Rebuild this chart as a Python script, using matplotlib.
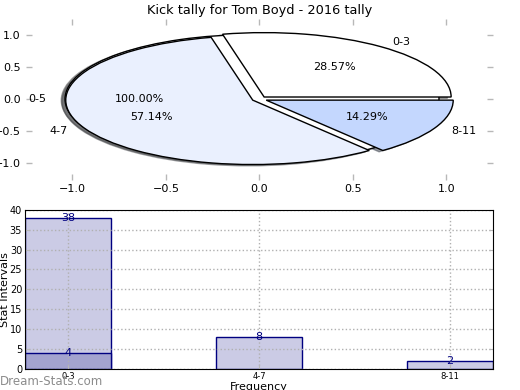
import matplotlib
matplotlib.use("Agg")
from matplotlib import pyplot as plt
from matplotlib.patches import Wedge
import matplotlib.colors as mcolors

# pie data
outer_label = ["0-5"]
outer_value = [38]
pie_labels = ["0-3", "4-7", "8-11"]
pie_values = [4, 8, 2]
pie_colors = ["#ffffff", "#eaf0fe", "#c4d7fe"]

# bar data
bar_labels = ["0-3", "4-7", "8-11"]
bar_values = [38, 8, 2]
overlay_values = [4]


def add_shadows(ax, wedges):
    # old-style pie shadow: offset in data units, sits under every wedge
    for w in wedges:
        cx, cy = w.center
        rgb = 0.3 * mcolors.to_rgba_array(w.get_facecolor())[0][:3]
        sh = Wedge((cx - 0.02, cy - 0.02), w.r, w.theta1, w.theta2,
                   facecolor=rgb, edgecolor=rgb, alpha=0.5, zorder=0.9)
        ax.add_patch(sh)


fig = plt.figure(figsize=(5.2, 3.9), dpi=100)

# ---------------- pie ----------------
ax1 = fig.add_axes([0.0495, 0.5397, 0.899, 0.4128])
outer, _, _ = ax1.pie(outer_value, labels=outer_label, autopct="%1.2f%%",
                      colors=["white"], explode=[0.04],
                      wedgeprops={"edgecolor": "black", "linewidth": 1},
                      textprops={"fontsize": 8})
inner, _, _ = ax1.pie(pie_values, labels=pie_labels, autopct="%1.2f%%", colors=pie_colors,
                      explode=[0.04] * len(pie_values),
                      wedgeprops={"edgecolor": "black", "linewidth": 1},
                      textprops={"fontsize": 8})
add_shadows(ax1, outer)
add_shadows(ax1, inner)
ax1.set_aspect("auto")
ax1.set_xlim(-1.25, 1.25)
ax1.set_ylim(-1.25, 1.25)
ax1.set_xticks([-1.0, -0.5, 0.0, 0.5, 1.0])
ax1.set_yticks([-1.0, -0.5, 0.0, 0.5, 1.0])
ax1.tick_params(direction="in", color="#b8b8b8", length=4, width=1,
                top=True, right=True, labelsize=8)
ax1.set_frame_on(False)
ax1.set_title("Kick tally for Tom Boyd - 2016 tally", fontsize=9.3, pad=3)

# ---------------- bars ----------------
ax2 = fig.add_axes([0.048, 0.054, 0.9, 0.408])
xs = list(range(len(bar_labels)))
width = 0.45
ax2.bar(xs, bar_values, width=width, color="#cbcbe5", edgecolor="#000080", linewidth=1)
ax2.bar(xs[:len(overlay_values)], overlay_values, width=width, color="#a3a3cf",
        edgecolor="#000080", linewidth=1)
for x, v in zip(xs, bar_values):
    ax2.text(x, v, str(v), ha="center", va="center", color="#000080", fontsize=8)
for x, v in zip(xs, overlay_values):
    ax2.text(x, v, str(v), ha="center", va="center", color="#000080", fontsize=8)

ax2.set_xlim(-width / 2, xs[-1] + width / 2)
ax2.set_ylim(0, 40)
ax2.set_xticks(xs)
ax2.set_xticklabels(bar_labels, fontsize=6)
ax2.set_yticks(range(0, 41, 5))
ax2.tick_params(axis="y", labelsize=7)
ax2.tick_params(direction="in", color="#b8b8b8", length=3, right=True, pad=2)
ax2.grid(True, linestyle=":", color="#b0b0b0", linewidth=1)
ax2.set_axisbelow(False)
for sp in ax2.spines.values():
    sp.set_zorder(4)
ax2.set_ylabel("Stat Intervals", fontsize=8)
ax2.yaxis.set_label_coords(-0.032, 0.5)
ax2.set_xlabel("Frequency", fontsize=8, labelpad=1)

fig.text(0.0, 0.023, "Dream-Stats.com", fontsize=8.5, color="#8c8c8c",
         ha="left", va="center")

fig.savefig("out.png", dpi=100)
